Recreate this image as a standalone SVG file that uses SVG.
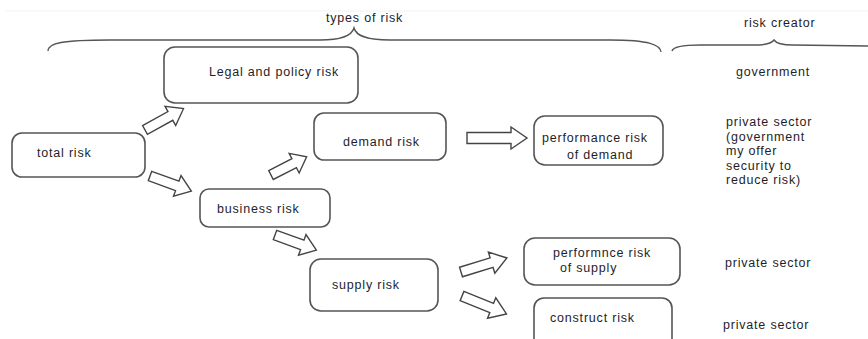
<svg xmlns="http://www.w3.org/2000/svg" width="868" height="339" viewBox="0 0 868 339">
<defs>
<style>
.box{fill:#fff;stroke:#555;stroke-width:1.6}
.arr{fill:#fff;stroke:#444;stroke-width:1.4;stroke-linejoin:miter}
.brace{fill:none;stroke:#555;stroke-width:1.4}
text{font-family:"Liberation Sans",Arial,sans-serif;font-size:12.5px;letter-spacing:0.8px;fill:#1e1e2a}
</style>
</defs>
<rect width="868" height="339" fill="#fff"/>
<line x1="5" y1="11" x2="868" y2="11" stroke="#f2f2f2" stroke-width="1"/>
<g id="braces">
<path class="brace" d="M48,51 C48,43 62,40 110,40 L320,40 C344,40 352,35 354,28 C356,35 364,40 390,40 L610,40 C650,40 660,45 661,52"/>
<path class="brace" d="M672,51 C673,47 682,45 700,45 L755,45 C768,45 772,43 774,40 C776,43 780,45 793,45 L868,46"/>
<text x="326" y="22">types of risk</text>
<text x="744" y="27">risk creator</text>
</g>
<g id="connectors">
<polygon class="arr" transform="translate(145,130) rotate(-29)" points="0,-5 29,-5 29,-11 44,0 29,11 29,5 0,5"/>
<polygon class="arr" transform="translate(150,176) rotate(20)" points="0,-5 29,-5 29,-11 44,0 29,11 29,5 0,5"/>
<polygon class="arr" transform="translate(271,175) rotate(-27)" points="0,-5 26,-5 26,-11 40,0 26,11 26,5 0,5"/>
<polygon class="arr" transform="translate(467,138)" points="0,-5.5 44,-5.5 44,-11 60,0 44,11 44,5.5 0,5.5"/>
<polygon class="arr" transform="translate(275,235) rotate(20)" points="0,-5 29,-5 29,-11 44,0 29,11 29,5 0,5"/>
<polygon class="arr" transform="translate(461,272) rotate(-17)" points="0,-5 32,-5 32,-11 48,0 32,11 32,5 0,5"/>
<polygon class="arr" transform="translate(462,296) rotate(22)" points="0,-5 32,-5 32,-11 48,0 32,11 32,5 0,5"/>
</g>
<g id="legal">
<rect class="box" x="164" y="47" width="194" height="56" rx="11"/>
<text x="209" y="76">Legal and policy risk</text>
</g>
<g id="total">
<rect class="box" x="12" y="133" width="133" height="44" rx="10"/>
<text x="37" y="157">total risk</text>
</g>
<g id="business">
<rect class="box" x="200" y="189" width="130" height="38" rx="9"/>
<text x="217" y="213">business risk</text>
</g>
<g id="demand">
<rect class="box" x="314" y="113" width="132" height="47" rx="10"/>
<text x="343" y="146">demand risk</text>
</g>
<g id="perfdemand">
<rect class="box" x="534" y="116" width="129" height="49" rx="11"/>
<text x="542" y="142">performance risk</text>
<text x="567" y="159">of demand</text>
</g>
<g id="supply">
<rect class="box" x="310" y="259" width="128" height="52" rx="11"/>
<text x="332" y="289">supply risk</text>
</g>
<g id="perfsupply">
<rect class="box" x="524" y="238" width="156" height="47" rx="11"/>
<text x="553" y="257">performnce risk</text>
<text x="560" y="272">of supply</text>
</g>
<g id="construct">
<rect class="box" x="534" y="298" width="138" height="60" rx="10"/>
<text x="550" y="322">construct risk</text>
</g>
<g id="creators">
<text x="736" y="76">government</text>
<text x="726" y="126">private sector</text>
<text x="726" y="140.5">(government</text>
<text x="726" y="155">my offer</text>
<text x="726" y="169.5">security to</text>
<text x="726" y="184">reduce risk)</text>
<text x="725" y="267">private sector</text>
<text x="723" y="329">private sector</text>
</g>
</svg>
